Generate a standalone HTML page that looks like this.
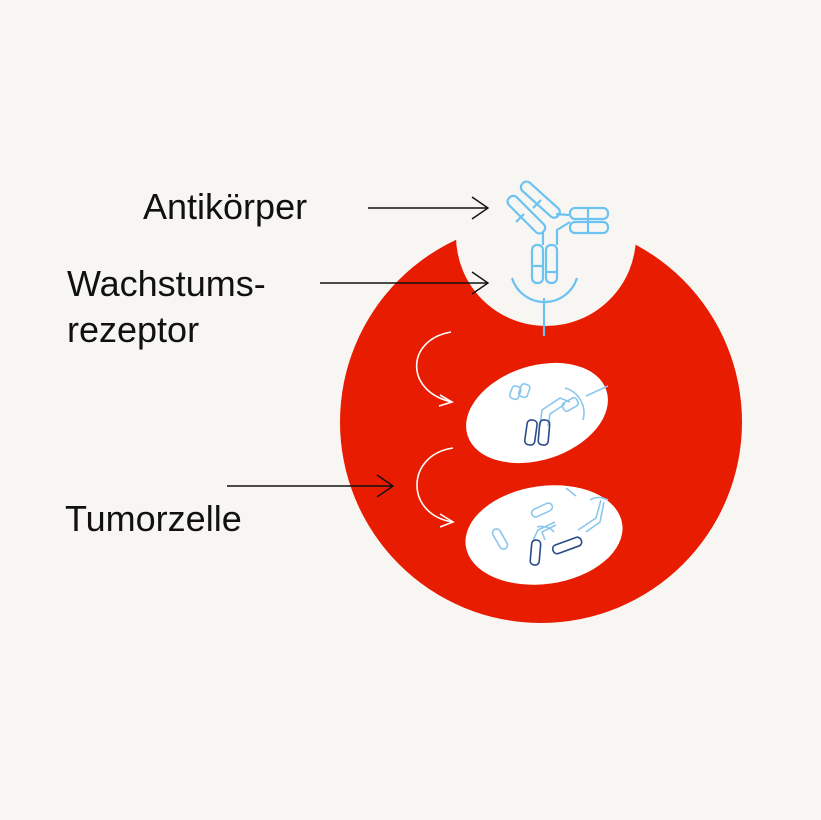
<!DOCTYPE html>
<html><head><meta charset="utf-8"><style>
html,body{margin:0;padding:0;background:#f8f6f3;}
svg{display:block}
text{font-family:"Liberation Sans",sans-serif;font-size:36px;fill:#111}
</style></head><body>
<svg width="821" height="820" viewBox="0 0 821 820">
<rect width="821" height="820" fill="#f8f6f3"/>
<circle cx="541" cy="422" r="201" fill="#e81c00"/>
<circle cx="546" cy="236" r="90" fill="#f8f6f3"/>
<ellipse cx="537" cy="413" rx="73" ry="47" transform="rotate(-18 537 413)" fill="#fff"/>
<ellipse cx="544" cy="535" rx="79" ry="49" transform="rotate(-8 544 535)" fill="#fff"/>
<g fill="none" stroke="#fff" stroke-width="1.6">
<path d="M451 332 C405 340 405 392 452 402"/><path d="M440 395 L452 402 L439 406"/>
<path d="M453 448 C405 455 405 515 453 522"/><path d="M440 514 L453 522 L440 527"/>
</g>
<g fill="none" stroke="#6cc3f2" stroke-width="2.2">
<path d="M512 278 A34 34 0 0 0 577 278"/>
<line x1="544" y1="298" x2="544" y2="336"/>
<rect x="532" y="245" width="11" height="38" rx="5"/><line x1="532" y1="266" x2="543" y2="266"/>
<rect x="546" y="245" width="11" height="38" rx="5"/><line x1="546" y1="272" x2="557" y2="272"/>
<rect x="502" y="209" width="48" height="11" rx="5" transform="rotate(45 526 215)"/>
<rect x="516" y="194" width="48" height="11" rx="5" transform="rotate(42 540 200)"/>
<line x1="516" y1="222" x2="524" y2="214"/><line x1="533" y1="208" x2="541" y2="200"/>
<path d="M543 232 L543 245 M557 245 L557 230 L570 222 M556 214 L569 215"/>
<rect x="570" y="208" width="38" height="11" rx="5"/><rect x="570" y="222" width="38" height="11" rx="5"/>
<line x1="588" y1="208" x2="588" y2="233"/>
</g>
<g fill="none" stroke-width="1.6">
<g stroke="#8bc7ec"><rect x="511" y="386" width="9" height="13" rx="3" transform="rotate(20 515 392)"/><rect x="520" y="384" width="9" height="13" rx="3" transform="rotate(20 524 390)"/>
<path d="M565 388 A26 26 0 0 1 583 420"/><path d="M586 396 L608 386"/>
<path d="M540 426 L542 410 L560 398 L570 402 M548 426 L550 414 L565 404"/>
<rect x="562" y="400" width="16" height="9" rx="3" transform="rotate(-30 570 404)"/></g>
<g stroke="#2a4a8a"><rect x="526" y="420" width="10" height="25" rx="4" transform="rotate(8 531 432)"/><rect x="539" y="420" width="10" height="25" rx="4" transform="rotate(5 544 432)"/></g>
</g>
<g fill="none" stroke-width="1.6">
<g stroke="#8bc7ec"><rect x="496" y="528" width="8" height="22" rx="4" transform="rotate(-30 500 539)"/>
<rect x="531" y="506" width="22" height="8" rx="4" transform="rotate(-25 542 510)"/>
<path d="M537 527 A14 10 0 0 1 554 532"/><path d="M566 488 L576 496 M590 500 Q598 495 608 500"/>
<path d="M533 540 L538 530 L555 522 M545 540 L542 532 L556 525"/>
<path d="M578 530 L596 518 L601 500 M586 532 L600 522 L604 502"/></g>
<g stroke="#2a4a8a"><rect x="531" y="540" width="9" height="25" rx="4" transform="rotate(5 535 552)"/>
<rect x="552" y="541" width="30" height="9" rx="4" transform="rotate(-20 567 545)"/></g>
</g>
<g stroke="#111" stroke-width="1.4" fill="none">
<line x1="368" y1="208" x2="488" y2="208"/><path d="M472 197 L488 208 L472 219"/>
<line x1="320" y1="283" x2="488" y2="283"/><path d="M472 272 L488 283 L472 294"/>
<line x1="227" y1="486" x2="393" y2="486"/><path d="M377 475 L393 486 L377 497"/>
</g>
<text x="143" y="219">Antikörper</text>
<text x="67" y="296">Wachstums-</text>
<text x="67" y="342">rezeptor</text>
<text x="65" y="531">Tumorzelle</text>
</svg>
</body></html>
